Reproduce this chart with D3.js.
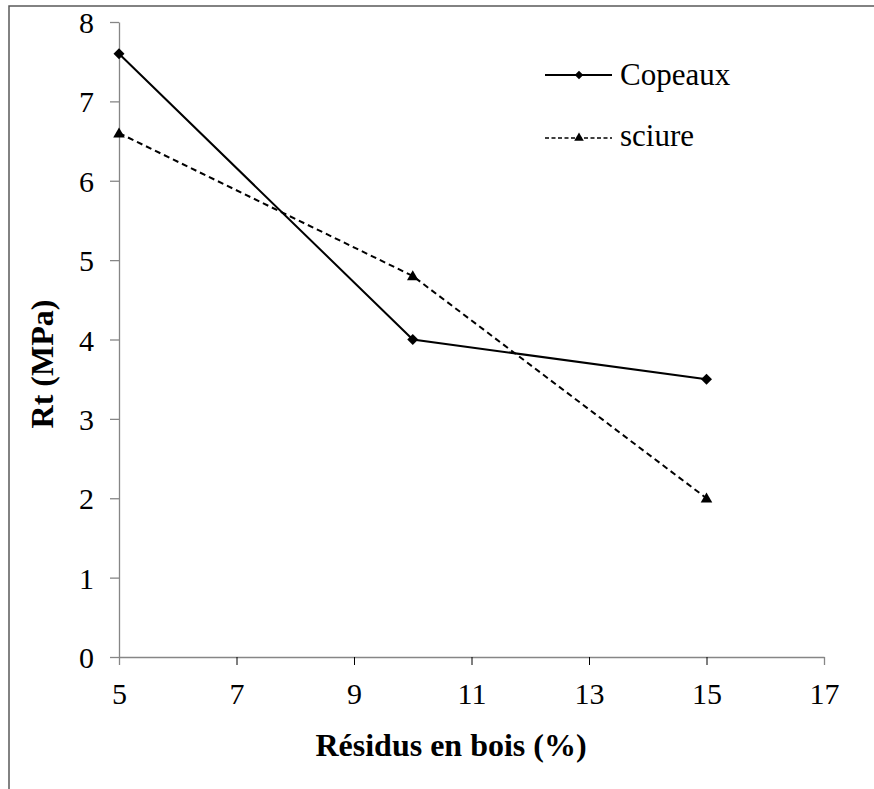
<!DOCTYPE html>
<html><head><meta charset="utf-8">
<script src="https://cdn.jsdelivr.net/npm/d3@7"></script>
<style>body{margin:0;background:#fff}svg{display:block}</style>
</head><body><svg id="c" width="874" height="789" font-family="Liberation Serif"></svg>
<script>
const xValues = [5, 10, 15];
const copeaux = [7.6, 4.0, 3.5];
const sciure = [6.6, 4.8, 2.0];
const seriesNames = ["Copeaux", "sciure"];
const xTicks = [5, 7, 9, 11, 13, 15, 17];
const yTicks = [0, 1, 2, 3, 4, 5, 6, 7, 8];

const FONT = '"Liberation Serif"';
const svg = d3.select("#c");
const x = d3.scaleLinear().domain([5, 17]).range([119, 824]);
const y = d3.scaleLinear().domain([0, 8]).range([657, 22]);

// outer border
svg.append("path").attr("d", "M9,789 L9,6 L874,6").attr("fill", "none").attr("stroke", "#595959").attr("stroke-width", 1.5);

const axisColor = "#868686";
const gx = svg.append("g").attr("transform", "translate(0,657)")
  .call(d3.axisBottom(x).tickValues(xTicks).tickSize(8).tickSizeOuter(0).tickPadding(18));
const gy = svg.append("g").attr("transform", "translate(119,0)")
  .call(d3.axisLeft(y).tickValues(yTicks).tickSize(9).tickSizeOuter(0).tickPadding(16));
[gx, gy].forEach(g => {
  g.attr("font-family", FONT).attr("font-size", 30);
  g.select(".domain").attr("stroke", axisColor).attr("stroke-width", 1.3);
  g.selectAll(".tick line").attr("stroke", axisColor).attr("stroke-width", 1.3);
  g.selectAll("text").style("font-size", "30px").style("font-family", FONT).attr("fill", "#000");
});
gx.selectAll(".tick line").filter(d => d !== 17 && d !== 5).attr("stroke", "#000").attr("stroke-width", 1);
gy.selectAll(".tick text").attr("dy", "0.35em");

const line = d3.line().x((d, i) => x(xValues[i])).y(d => y(d));
svg.append("path").datum(copeaux).attr("d", line).attr("fill", "none").attr("stroke", "#000").attr("stroke-width", 2);
svg.append("path").datum(sciure).attr("d", line).attr("fill", "none").attr("stroke", "#000").attr("stroke-width", 2).attr("stroke-dasharray", "6,4");

const diamond = d3.symbol().type(d3.symbolSquare).size(60);
const tri = d3.symbol().type(d3.symbolTriangle).size(58);
svg.selectAll(".m1").data(copeaux).enter().append("path")
  .attr("transform", (d, i) => `translate(${x(xValues[i])},${y(d)}) rotate(45)`).attr("d", diamond).attr("fill", "#000");
svg.selectAll(".m2").data(sciure).enter().append("path")
  .attr("transform", (d, i) => `translate(${x(xValues[i])},${y(d)+1})`).attr("d", tri).attr("fill", "#000");

// legend
const lg = svg.append("g");
const legY = [75, 138];
lg.append("line").attr("x1", 545).attr("x2", 612).attr("y1", legY[0]).attr("y2", legY[0]).attr("stroke", "#000").attr("stroke-width", 2);
lg.append("path").attr("transform", `translate(579,${legY[0]}) rotate(45)`).attr("d", d3.symbol().type(d3.symbolSquare).size(36)).attr("fill", "#000");
lg.append("line").attr("x1", 545).attr("x2", 612).attr("y1", legY[1]).attr("y2", legY[1]).attr("stroke", "#000").attr("stroke-width", 1.5).attr("stroke-dasharray", "4,2.5");
lg.append("path").attr("transform", `translate(579,${legY[1]})`).attr("d", d3.symbol().type(d3.symbolTriangle).size(40)).attr("fill", "#000");
const legBase = [85, 146];
seriesNames.forEach((n, i) => {
  lg.append("text").attr("x", 620).attr("y", legBase[i]).attr("font-family", FONT).style("font-size", "31px").style("font-family", FONT).text(n);
});

svg.append("text").attr("x", 451).attr("y", 756).attr("text-anchor", "middle").style("font-size", "32px").style("font-family", FONT).attr("font-weight", "bold").text("Résidus en bois (%)");
svg.append("text").attr("transform", "translate(53,364) rotate(-90)").attr("text-anchor", "middle").style("font-size", "32px").style("font-family", FONT).attr("font-weight", "bold").text("Rt (MPa)");
</script></body></html>
